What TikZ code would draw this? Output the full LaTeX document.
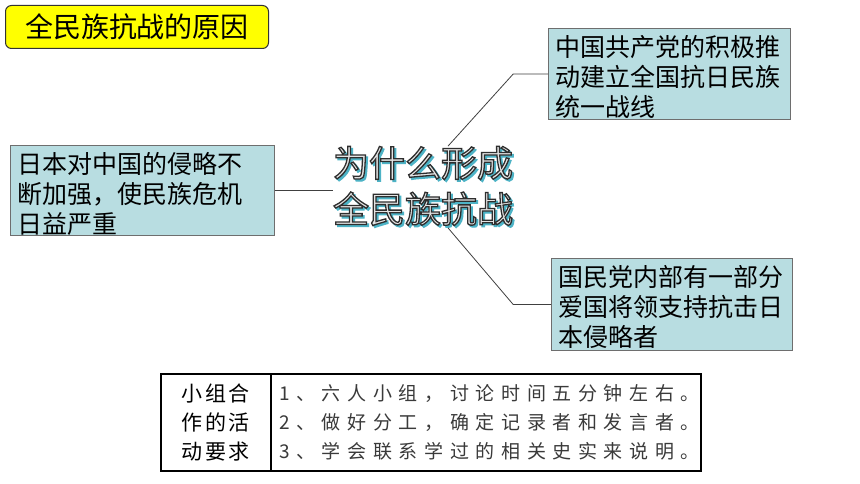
\documentclass[tikz,border=0pt]{standalone}
\usepackage{fontspec}
\setmainfont{Noto Sans CJK SC}
\newfontfamily\cjkright[LetterSpace=35]{Noto Sans CJK SC}
\newfontfamily\cjkleft[LetterSpace=12]{Noto Sans CJK SC}
\usetikzlibrary{calc}
\definecolor{boxfill}{HTML}{B8DDE1}
\definecolor{boxline}{HTML}{6E6E6E}
\definecolor{connline}{HTML}{404040}
\definecolor{titlefill}{HTML}{FFFF00}
\definecolor{titleline}{HTML}{333333}
\definecolor{wateal}{HTML}{4DB3C6}
\definecolor{wafill}{HTML}{E4E4E4}
\definecolor{tabtext}{HTML}{3A3A3A}
\newbox\waBox
\tikzset{
  infobox/.style={draw=boxline, fill=boxfill, line width=1pt, inner xsep=7pt, inner ysep=7pt,
    anchor=north west, font=\fontsize{25}{30}\selectfont},
  titlebox/.style={draw=titleline, fill=titlefill, line width=1pt, rounded corners=6pt,
    minimum width=263pt, minimum height=43pt, inner sep=0pt, anchor=north west,
    font=\fontsize{28}{32}\selectfont},
  conn/.style={draw=connline, line width=0.8pt},
  cellbox/.style={draw=black, line width=2pt, anchor=north west, minimum height=97pt, inner sep=0pt}
}
\begin{document}
\setbox\waBox=\hbox{\vbox{\fontsize{36}{46}\selectfont\hbox{为什么形成}\hbox{全民族抗战}}}
\begin{tikzpicture}[x=1pt,y=1pt]
  \useasboundingbox[fill=white] (0,0) rectangle (860,-484);
  % title
  \node[titlebox] (title) at (5,-5) {全民族抗战的原因};
  % boxes
  \node[infobox] (cause1) at (10,-145)
    {\parbox[t][76pt][t]{250pt}{\raggedright 日本对中国的侵略不\\断加强，使民族危机\\日益严重}};
  \node[infobox] (cpc) at (548,-28)
    {\parbox[t][77pt][t]{228pt}{\raggedright 中国共产党的积极推\\动建立全国抗日民族\\统一战线}};
  \node[infobox] (kmt) at (551,-258)
    {\parbox[t][78pt][t]{227pt}{\raggedright 国民党内部有一部分\\爱国将领支持抗击日\\本侵略者}};
  % centre word art: teal shadow, then light fill with dark outline
  \node[inner sep=0pt] (center) at (423,-187)
    {\rlap{\kern2pt\raisebox{-2pt}{\color{wateal}\special{pdf:literal direct 1.2 w 2 Tr}\copy\waBox\special{pdf:literal direct 0 Tr}}}%
     {\color{wafill}\special{pdf:literal direct 0.18 0.18 0.18 RG 1.3 w 2 Tr}\copy\waBox\special{pdf:literal direct 0 Tr}}};
  \coordinate (ct) at ([xshift=25pt]center.north);
  \coordinate (cb) at ([xshift=25pt]center.south);
  % connectors
  \draw[conn] (cause1.east) -- (cause1.east -| center.west);
  \draw[conn] (cpc.west) -- (cpc.west -| center.east) -- (ct);
  \draw[conn] (kmt.west) -- (kmt.west -| center.east) -- (cb);
  % table
  \node[cellbox, minimum width=110pt, align=center, font=\cjkleft\fontsize{21}{29}\selectfont] (reqhead) at (160,-373)
    {小组合\\作的活\\动要求};
  \node[cellbox, minimum width=430pt, text width=414pt, inner xsep=8pt, align=left,
        text=tabtext, font=\cjkright\fontsize{19}{28.7}\selectfont] (reqbody) at (270,-373)
    {1、六人小组，讨论时间五分钟左右。\\2、做好分工，确定记录者和发言者。\\3、学会联系学过的相关史实来说明。};
\end{tikzpicture}
\end{document}
